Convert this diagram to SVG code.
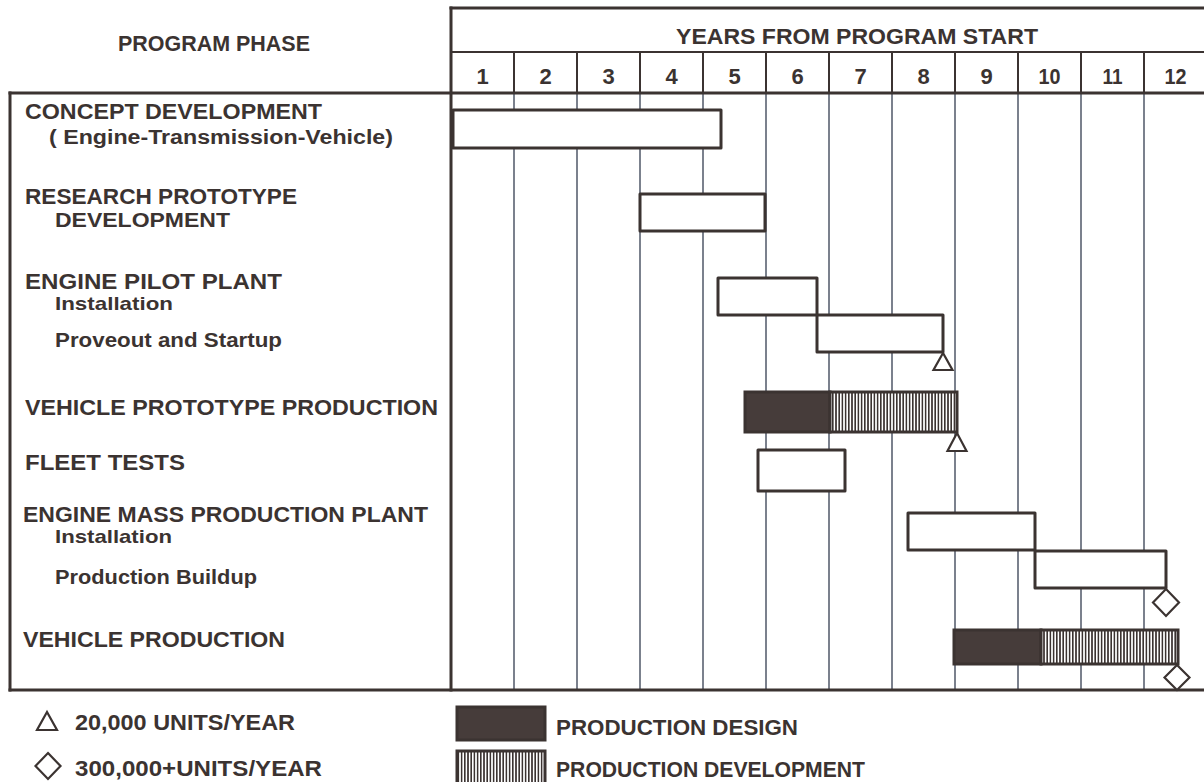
<svg xmlns="http://www.w3.org/2000/svg" width="1204" height="782" viewBox="0 0 1204 782">
<defs>
<pattern id="hatch" patternUnits="userSpaceOnUse" x="0" y="0" width="3.2" height="10">
<rect x="0" y="0" width="3.2" height="10" fill="#ffffff"/>
<rect x="0" y="0" width="1.6" height="10" fill="#3b3331"/>
</pattern>
<style>
text{font-family:"Liberation Sans",Arial,sans-serif;font-weight:bold;fill:#3b3331;}
.cap{font-size:22px;}
.sub{font-size:19px;}
.sub2{font-size:20px;}
.yr{font-size:22px;text-anchor:middle;}
.frame{stroke:#3b3331;stroke-width:3;fill:none;stroke-linecap:square;}
.hdiv{stroke:#3b3331;stroke-width:2;}
.grid{stroke:#4f5767;stroke-width:1.5;}
.bar{fill:#ffffff;stroke:#3b3331;stroke-width:3;stroke-linejoin:round;}
.dark{fill:#463c3a;stroke:#3b3331;stroke-width:3;}
.hat{fill:url(#hatch);stroke:#3b3331;stroke-width:3;}
.mark{fill:#ffffff;stroke:#3b3331;stroke-width:2.2;stroke-linejoin:miter;}
</style>
</defs>
<rect width="1204" height="782" fill="#ffffff"/>

<g id="grid">
<line class="grid" x1="514" y1="93" x2="514" y2="690"/>
<line class="grid" x1="577" y1="93" x2="577" y2="690"/>
<line class="grid" x1="640" y1="93" x2="640" y2="690"/>
<line class="grid" x1="703" y1="93" x2="703" y2="690"/>
<line class="grid" x1="766" y1="93" x2="766" y2="690"/>
<line class="grid" x1="829" y1="93" x2="829" y2="690"/>
<line class="grid" x1="892" y1="93" x2="892" y2="690"/>
<line class="grid" x1="955" y1="93" x2="955" y2="690"/>
<line class="grid" x1="1018" y1="93" x2="1018" y2="690"/>
<line class="grid" x1="1081" y1="93" x2="1081" y2="690"/>
<line class="grid" x1="1144" y1="93" x2="1144" y2="690"/>
</g>

<g id="frame">
<line class="frame" x1="451" y1="8" x2="1204" y2="8"/>
<line class="frame" x1="451" y1="8" x2="451" y2="690"/>
<line class="hdiv" x1="451" y1="52" x2="1204" y2="52"/>
<line class="frame" x1="10" y1="93" x2="1204" y2="93"/>
<line class="frame" x1="10" y1="93" x2="10" y2="690"/>
<line class="frame" x1="10" y1="690" x2="1204" y2="690"/>
<line class="hdiv" x1="514" y1="52" x2="514" y2="93"/>
<line class="hdiv" x1="577" y1="52" x2="577" y2="93"/>
<line class="hdiv" x1="640" y1="52" x2="640" y2="93"/>
<line class="hdiv" x1="703" y1="52" x2="703" y2="93"/>
<line class="hdiv" x1="766" y1="52" x2="766" y2="93"/>
<line class="hdiv" x1="829" y1="52" x2="829" y2="93"/>
<line class="hdiv" x1="892" y1="52" x2="892" y2="93"/>
<line class="hdiv" x1="955" y1="52" x2="955" y2="93"/>
<line class="hdiv" x1="1018" y1="52" x2="1018" y2="93"/>
<line class="hdiv" x1="1081" y1="52" x2="1081" y2="93"/>
<line class="hdiv" x1="1144" y1="52" x2="1144" y2="93"/>
</g>

<g id="header">
<text class="cap" x="118" y="51" textLength="192" lengthAdjust="spacingAndGlyphs">PROGRAM PHASE</text>
<text class="cap" x="676" y="44" textLength="362" lengthAdjust="spacingAndGlyphs">YEARS FROM PROGRAM START</text>
<text class="yr" x="482.5" y="84">1</text>
<text class="yr" x="545.5" y="84">2</text>
<text class="yr" x="608.5" y="84">3</text>
<text class="yr" x="671.5" y="84">4</text>
<text class="yr" x="734.5" y="84">5</text>
<text class="yr" x="797.5" y="84">6</text>
<text class="yr" x="860.5" y="84">7</text>
<text class="yr" x="923.5" y="84">8</text>
<text class="yr" x="986.5" y="84">9</text>
<text class="yr" x="1049.5" y="84" textLength="22" lengthAdjust="spacingAndGlyphs">10</text>
<text class="yr" x="1112.5" y="84" textLength="20" lengthAdjust="spacingAndGlyphs">11</text>
<text class="yr" x="1175.5" y="84" textLength="22" lengthAdjust="spacingAndGlyphs">12</text>
</g>

<g id="concept-development">
<text class="cap" x="25" y="119" textLength="297" lengthAdjust="spacingAndGlyphs">CONCEPT DEVELOPMENT</text>
<text class="sub2" x="49" y="144" textLength="344" lengthAdjust="spacingAndGlyphs">( Engine-Transmission-Vehicle)</text>
<rect class="bar" x="453" y="110" width="268" height="38"/>
</g>

<g id="research-prototype">
<text class="cap" x="25" y="204" textLength="272" lengthAdjust="spacingAndGlyphs">RESEARCH PROTOTYPE</text>
<text class="sub2" x="55" y="227" textLength="175" lengthAdjust="spacingAndGlyphs">DEVELOPMENT</text>
<rect class="bar" x="640" y="194" width="125" height="37"/>
</g>

<g id="engine-pilot-plant">
<text class="cap" x="25" y="289" textLength="257" lengthAdjust="spacingAndGlyphs">ENGINE PILOT PLANT</text>
<text class="sub" x="55" y="310" textLength="118" lengthAdjust="spacingAndGlyphs">Installation</text>
<rect class="bar" x="718" y="278" width="99" height="37"/>
</g>

<g id="proveout-startup">
<text class="sub2" x="55" y="347" textLength="227" lengthAdjust="spacingAndGlyphs">Proveout and Startup</text>
<rect class="bar" x="817" y="315" width="126" height="37"/>
<polygon class="mark" points="943,353 933.5,370 952.5,370"/>
</g>

<g id="vehicle-prototype-production">
<text class="cap" x="25" y="415" textLength="413" lengthAdjust="spacingAndGlyphs">VEHICLE PROTOTYPE PRODUCTION</text>
<rect class="dark" x="745" y="392" width="85" height="40"/>
<rect class="hat" x="830" y="392" width="127" height="40"/>
<polygon class="mark" points="957,433 947.5,451 966.5,451"/>
</g>

<g id="fleet-tests">
<text class="cap" x="25" y="470" textLength="160" lengthAdjust="spacingAndGlyphs">FLEET TESTS</text>
<rect class="bar" x="758" y="450" width="87" height="41"/>
</g>

<g id="engine-mass-production-plant">
<text class="cap" x="23" y="522" textLength="405" lengthAdjust="spacingAndGlyphs">ENGINE MASS PRODUCTION PLANT</text>
<text class="sub" x="55" y="543" textLength="117" lengthAdjust="spacingAndGlyphs">Installation</text>
<rect class="bar" x="908" y="513" width="127" height="37"/>
</g>

<g id="production-buildup">
<text class="sub2" x="55" y="584" textLength="202" lengthAdjust="spacingAndGlyphs">Production Buildup</text>
<rect class="bar" x="1035" y="551" width="131" height="37"/>
<polygon class="mark" points="1166,589 1179,602.5 1166,616 1153,602.5"/>
</g>

<g id="vehicle-production">
<text class="cap" x="23" y="647" textLength="262" lengthAdjust="spacingAndGlyphs">VEHICLE PRODUCTION</text>
<rect class="dark" x="954" y="630" width="87" height="34"/>
<rect class="hat" x="1041" y="630" width="137" height="34"/>
<polygon class="mark" points="1177,665 1189.5,677.5 1177,690 1164.5,677.5"/>
</g>

<g id="legend">
<polygon class="mark" points="47,712 37,730 57,730"/>
<text class="cap" x="75" y="730" textLength="220" lengthAdjust="spacingAndGlyphs">20,000 UNITS/YEAR</text>
<polygon class="mark" points="48,753 60.5,766 48,779 35.5,766"/>
<text class="cap" x="75" y="776" textLength="247" lengthAdjust="spacingAndGlyphs">300,000+UNITS/YEAR</text>
<rect class="dark" x="457" y="707" width="88" height="33"/>
<text class="cap" x="556" y="735" textLength="242" lengthAdjust="spacingAndGlyphs">PRODUCTION DESIGN</text>
<rect class="hat" x="457" y="751" width="88" height="33"/>
<text class="cap" x="556" y="777" textLength="309" lengthAdjust="spacingAndGlyphs">PRODUCTION DEVELOPMENT</text>
</g>
</svg>
